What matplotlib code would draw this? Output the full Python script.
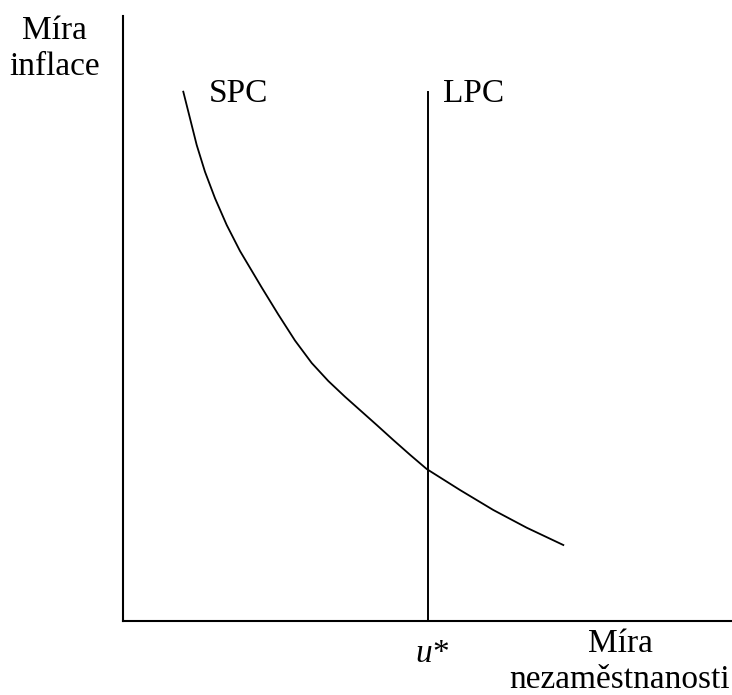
import matplotlib.pyplot as plt
import numpy as np

plt.rcParams['font.family'] = ['Liberation Serif', 'DejaVu Serif']

# SPC curve (axis units 0-100)
spc_x = [9.90, 11.00, 12.10, 13.46, 15.11, 17.03, 19.21, 22.78, 25.50,
         28.24, 30.99, 33.71, 36.45, 41.66, 44.38, 47.17, 49.87, 55.34,
         60.80, 66.29, 72.30]
spc_y = [87.49, 83.09, 78.68, 74.26, 69.87, 65.45, 61.16, 55.12, 50.66,
         46.36, 42.64, 39.67, 37.07, 32.40, 29.92, 27.44, 25.12, 21.65,
         18.35, 15.42, 12.56]

# long-run curve
lpc_x = 50.0
lpc_top = 87.4

fig = plt.figure(figsize=(7.32, 6.95), dpi=100)
ax = fig.add_axes([123 / 732, 74 / 695, 609 / 732, 605 / 695])

ax.plot(spc_x, spc_y, color='black', lw=1.3, solid_joinstyle='round')
ax.plot([lpc_x, lpc_x], [0, lpc_top], color='black', lw=1.4)

ax.set_xlim(0, 100)
ax.set_ylim(0, 100)
ax.set_xticks([])
ax.set_yticks([])
for s in ['top', 'right']:
    ax.spines[s].set_visible(False)
for s in ['left', 'bottom']:
    ax.spines[s].set_linewidth(1.5)

fs = 24
# multiline: baseline is taken from the last line
ax.text(-11.2, 90.25, 'Míra\ninflace', ha='center', va='baseline', fontsize=fs,
        multialignment='center', linespacing=1.25, clip_on=False)
ax.text(14.0, 85.8, 'SPC', ha='left', va='baseline', fontsize=fs)
ax.text(52.5, 85.8, 'LPC', ha='left', va='baseline', fontsize=fs)
ax.text(47.95, -6.8, 'u', ha='left', va='baseline', fontsize=fs,
        fontstyle='italic', clip_on=False)
ax.text(50.75, -6.8, '*', ha='left', va='baseline', fontsize=fs, clip_on=False)
ax.text(81.6, -11.1, 'Míra\nnezaměstnanosti', ha='center', va='baseline', fontsize=fs,
        multialignment='center', linespacing=1.22, clip_on=False)

fig.savefig('out.png', dpi=100)
